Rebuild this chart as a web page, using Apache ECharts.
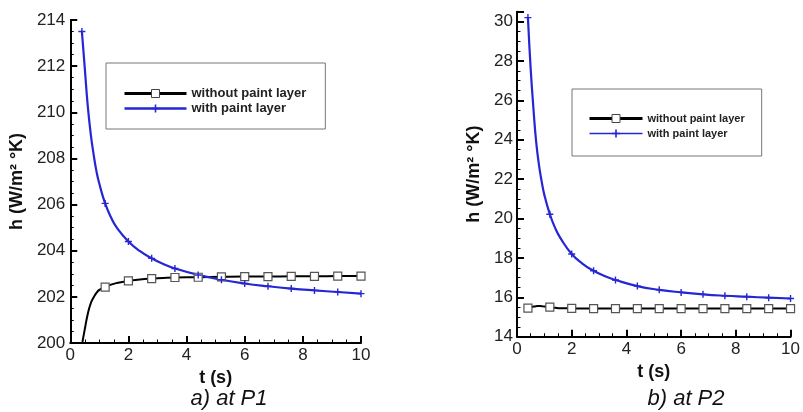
<!DOCTYPE html>
<html>
<head>
<meta charset="utf-8">
<script src="https://cdn.jsdelivr.net/npm/echarts@6/dist/echarts.min.js"></script>
<style>
html,body{margin:0;padding:0;background:#fff;overflow:hidden;}
#wrap{width:803px;height:412px;position:relative;}
#chartA{position:absolute;left:0;top:0;width:401px;height:412px;}
#chartB{position:absolute;left:401px;top:0;width:402px;height:412px;}
</style>
</head>
<body>
<div id="wrap"><div id="chartA"></div><div id="chartB"></div></div>
<script>
// ---- data ----
const seriesNames = ['without paint layer', 'with paint layer'];
const subtitles = ['a) at P1', 'b) at P2'];
const xTitle = 't (s)';
const yTitle = 'h (W/m\u00B2 \u00B0K)';

// time samples along the curves (s)
const tCurve = [0.4, 0.5, 0.6, 0.7, 0.8, 0.9, 1.0, 1.2, 1.4, 1.6, 2.0, 2.4, 2.8, 3.2, 3.6, 4.4, 5.2, 6.0, 6.8, 7.6, 8.4, 9.2, 10.0];
// times at which markers are drawn
const tMarkers = [0.4, 1.2, 2.0, 2.8, 3.6, 4.4, 5.2, 6.0, 6.8, 7.6, 8.4, 9.2, 10.0];

// P1
const p1WithoutPaint = [199.9, 200.6, 201.25, 201.7, 201.97, 202.17, 202.3, 202.42, 202.53, 202.6, 202.69, 202.75, 202.79, 202.82, 202.84, 202.85, 202.87, 202.88, 202.88, 202.89, 202.89, 202.9, 202.9];
const p1WithPaint    = [213.5, 211.9, 210.3, 209.1, 208.2, 207.45, 206.9, 206.05, 205.45, 205.0, 204.4, 203.98, 203.67, 203.42, 203.23, 202.95, 202.74, 202.58, 202.46, 202.36, 202.28, 202.21, 202.14];
// P2
const p2WithoutPaint = [15.45, 15.5, 15.53, 15.55, 15.56, 15.55, 15.53, 15.5, 15.47, 15.45, 15.44, 15.43, 15.43, 15.43, 15.43, 15.43, 15.43, 15.43, 15.43, 15.43, 15.43, 15.43, 15.43];
const p2WithPaint    = [30.2, 27.6, 25.6, 23.9, 22.75, 21.9, 21.2, 20.22, 19.5, 18.98, 18.2, 17.7, 17.35, 17.08, 16.88, 16.57, 16.38, 16.25, 16.15, 16.08, 16.03, 15.98, 15.94];

// axis ticks (labelled)
const xTicks = [0, 2, 4, 6, 8, 10];
const p1YTicks = [200, 202, 204, 206, 208, 210, 212, 214];
const p2YTicks = [14, 16, 18, 20, 22, 24, 26, 28, 30];
const p2YMax = 30.5;

// ---- styling ----
const FONT = '"Liberation Sans", Arial, sans-serif';
const BLUE = '#2626d4';
const BLACK = '#000';
const PLUS = 'path://M4,0 L6,0 L6,4 L10,4 L10,6 L6,6 L6,10 L4,10 L4,6 L0,6 L0,4 L4,4 Z';

function buildData(values) {
  return tCurve.map((t, i) => {
    const item = { value: [t, values[i]] };
    if (tMarkers.indexOf(t) < 0) item.symbol = 'none';
    return item;
  });
}

function lineSeries(name, values, color, width, symbol, symbolSize, itemStyle) {
  return {
    type: 'line', name,
    data: buildData(values),
    smooth: 0.5,
    clip: true,
    symbol, symbolSize, showSymbol: true, showAllSymbol: true,
    lineStyle: { color, width },
    itemStyle
  };
}

function makeOption(cfg) {
  return {
    animation: false,
    title: { text: cfg.subtitle, left: cfg.titleX, top: 383, textAlign: 'center',
      textStyle: { fontFamily: FONT, fontSize: 22, fontStyle: 'italic', fontWeight: 'normal', color: '#111' } },
    legend: {
      orient: 'vertical', backgroundColor: '#fff', borderColor: '#777', borderWidth: 1,
      selectedMode: false, align: 'left',
      left: cfg.legendX, top: cfg.legendY, padding: cfg.legendPadding,
      itemWidth: cfg.legendItemWidth, itemHeight: 10, itemGap: cfg.legendGap,
      textStyle: { fontFamily: FONT, fontSize: cfg.legendFont, fontWeight: 'bold', color: '#222' },
      data: [
        { name: seriesNames[0], lineStyle: { width: 3, color: BLACK }, itemStyle: { color: '#fff', borderColor: '#444', borderWidth: 1 } },
        { name: seriesNames[1], lineStyle: { width: cfg.legendBlueWidth, color: BLUE } }
      ]
    },
    grid: cfg.grid,
    xAxis: {
      type: 'value', min: xTicks[0], max: xTicks[xTicks.length - 1], interval: 2,
      name: xTitle, nameLocation: 'middle', nameGap: cfg.xNameGap,
      nameTextStyle: { fontFamily: FONT, fontSize: 18, fontWeight: 'bold', color: '#111' },
      axisLine: { show: true, onZero: false, lineStyle: { color: BLACK, width: 2 } },
      axisTick: { show: true, inside: true, length: 7, lineStyle: { color: BLACK, width: 2 } },
      minorTick: { show: true, splitNumber: 4, length: 3.5, lineStyle: { color: BLACK, width: 1 } },
      axisLabel: { fontFamily: FONT, fontSize: 17, color: '#222', margin: 4 },
      splitLine: { show: false }
    },
    yAxis: {
      type: 'value', min: cfg.yTicks[0], max: cfg.yMax, interval: 2,
      name: yTitle, nameLocation: 'middle', nameGap: cfg.yNameGap,
      nameTextStyle: { fontFamily: FONT, fontSize: 18, fontWeight: 'bold', color: '#111' },
      axisLine: { show: true, onZero: false, lineStyle: { color: BLACK, width: 2 } },
      axisTick: { show: true, inside: true, length: 7, lineStyle: { color: BLACK, width: 2 } },
      minorTick: { show: true, splitNumber: 4, length: 3.5, lineStyle: { color: BLACK, width: 1 } },
      axisLabel: { fontFamily: FONT, fontSize: 17, color: '#222', margin: cfg.yLabelMargin,
        formatter: v => (cfg.yTicks.indexOf(v) >= 0 ? String(v) : '') },
      splitLine: { show: false }
    },
    series: [
      lineSeries(seriesNames[0], cfg.black, BLACK, 2, 'rect', 8, { color: '#fff', borderColor: '#555', borderWidth: 1.2 }),
      lineSeries(seriesNames[1], cfg.blue, BLUE, 2.2, PLUS, 7, { color: BLUE })
    ]
  };
}

const chartA = echarts.init(document.getElementById('chartA'));
chartA.setOption(makeOption({
  subtitle: subtitles[0], titleX: 224,
  legendX: 106, legendY: 63, legendPadding: [24, 19, 14, 17], legendItemWidth: 62, legendGap: 2,
  legendFont: 13, legendBlueWidth: 2.5,
  grid: { left: 68, top: 20, width: 293, height: 323 },
  xNameGap: 16, yNameGap: 36, yLabelMargin: 5,
  yTicks: p1YTicks, yMax: p1YTicks[p1YTicks.length - 1],
  black: p1WithoutPaint, blue: p1WithPaint
}));

const chartB = echarts.init(document.getElementById('chartB'));
chartB.setOption(makeOption({
  subtitle: subtitles[1], titleX: 280,
  legendX: 171, legendY: 89, legendPadding: [24, 17, 17, 16], legendItemWidth: 53, legendGap: 4,
  legendFont: 11, legendBlueWidth: 1.5,
  grid: { left: 116, top: 11.7, width: 280, height: 325 },
  xNameGap: 20, yNameGap: 22, yLabelMargin: 4,
  yTicks: p2YTicks, yMax: p2YMax,
  black: p2WithoutPaint, blue: p2WithPaint
}));
</script>
</body>
</html>
